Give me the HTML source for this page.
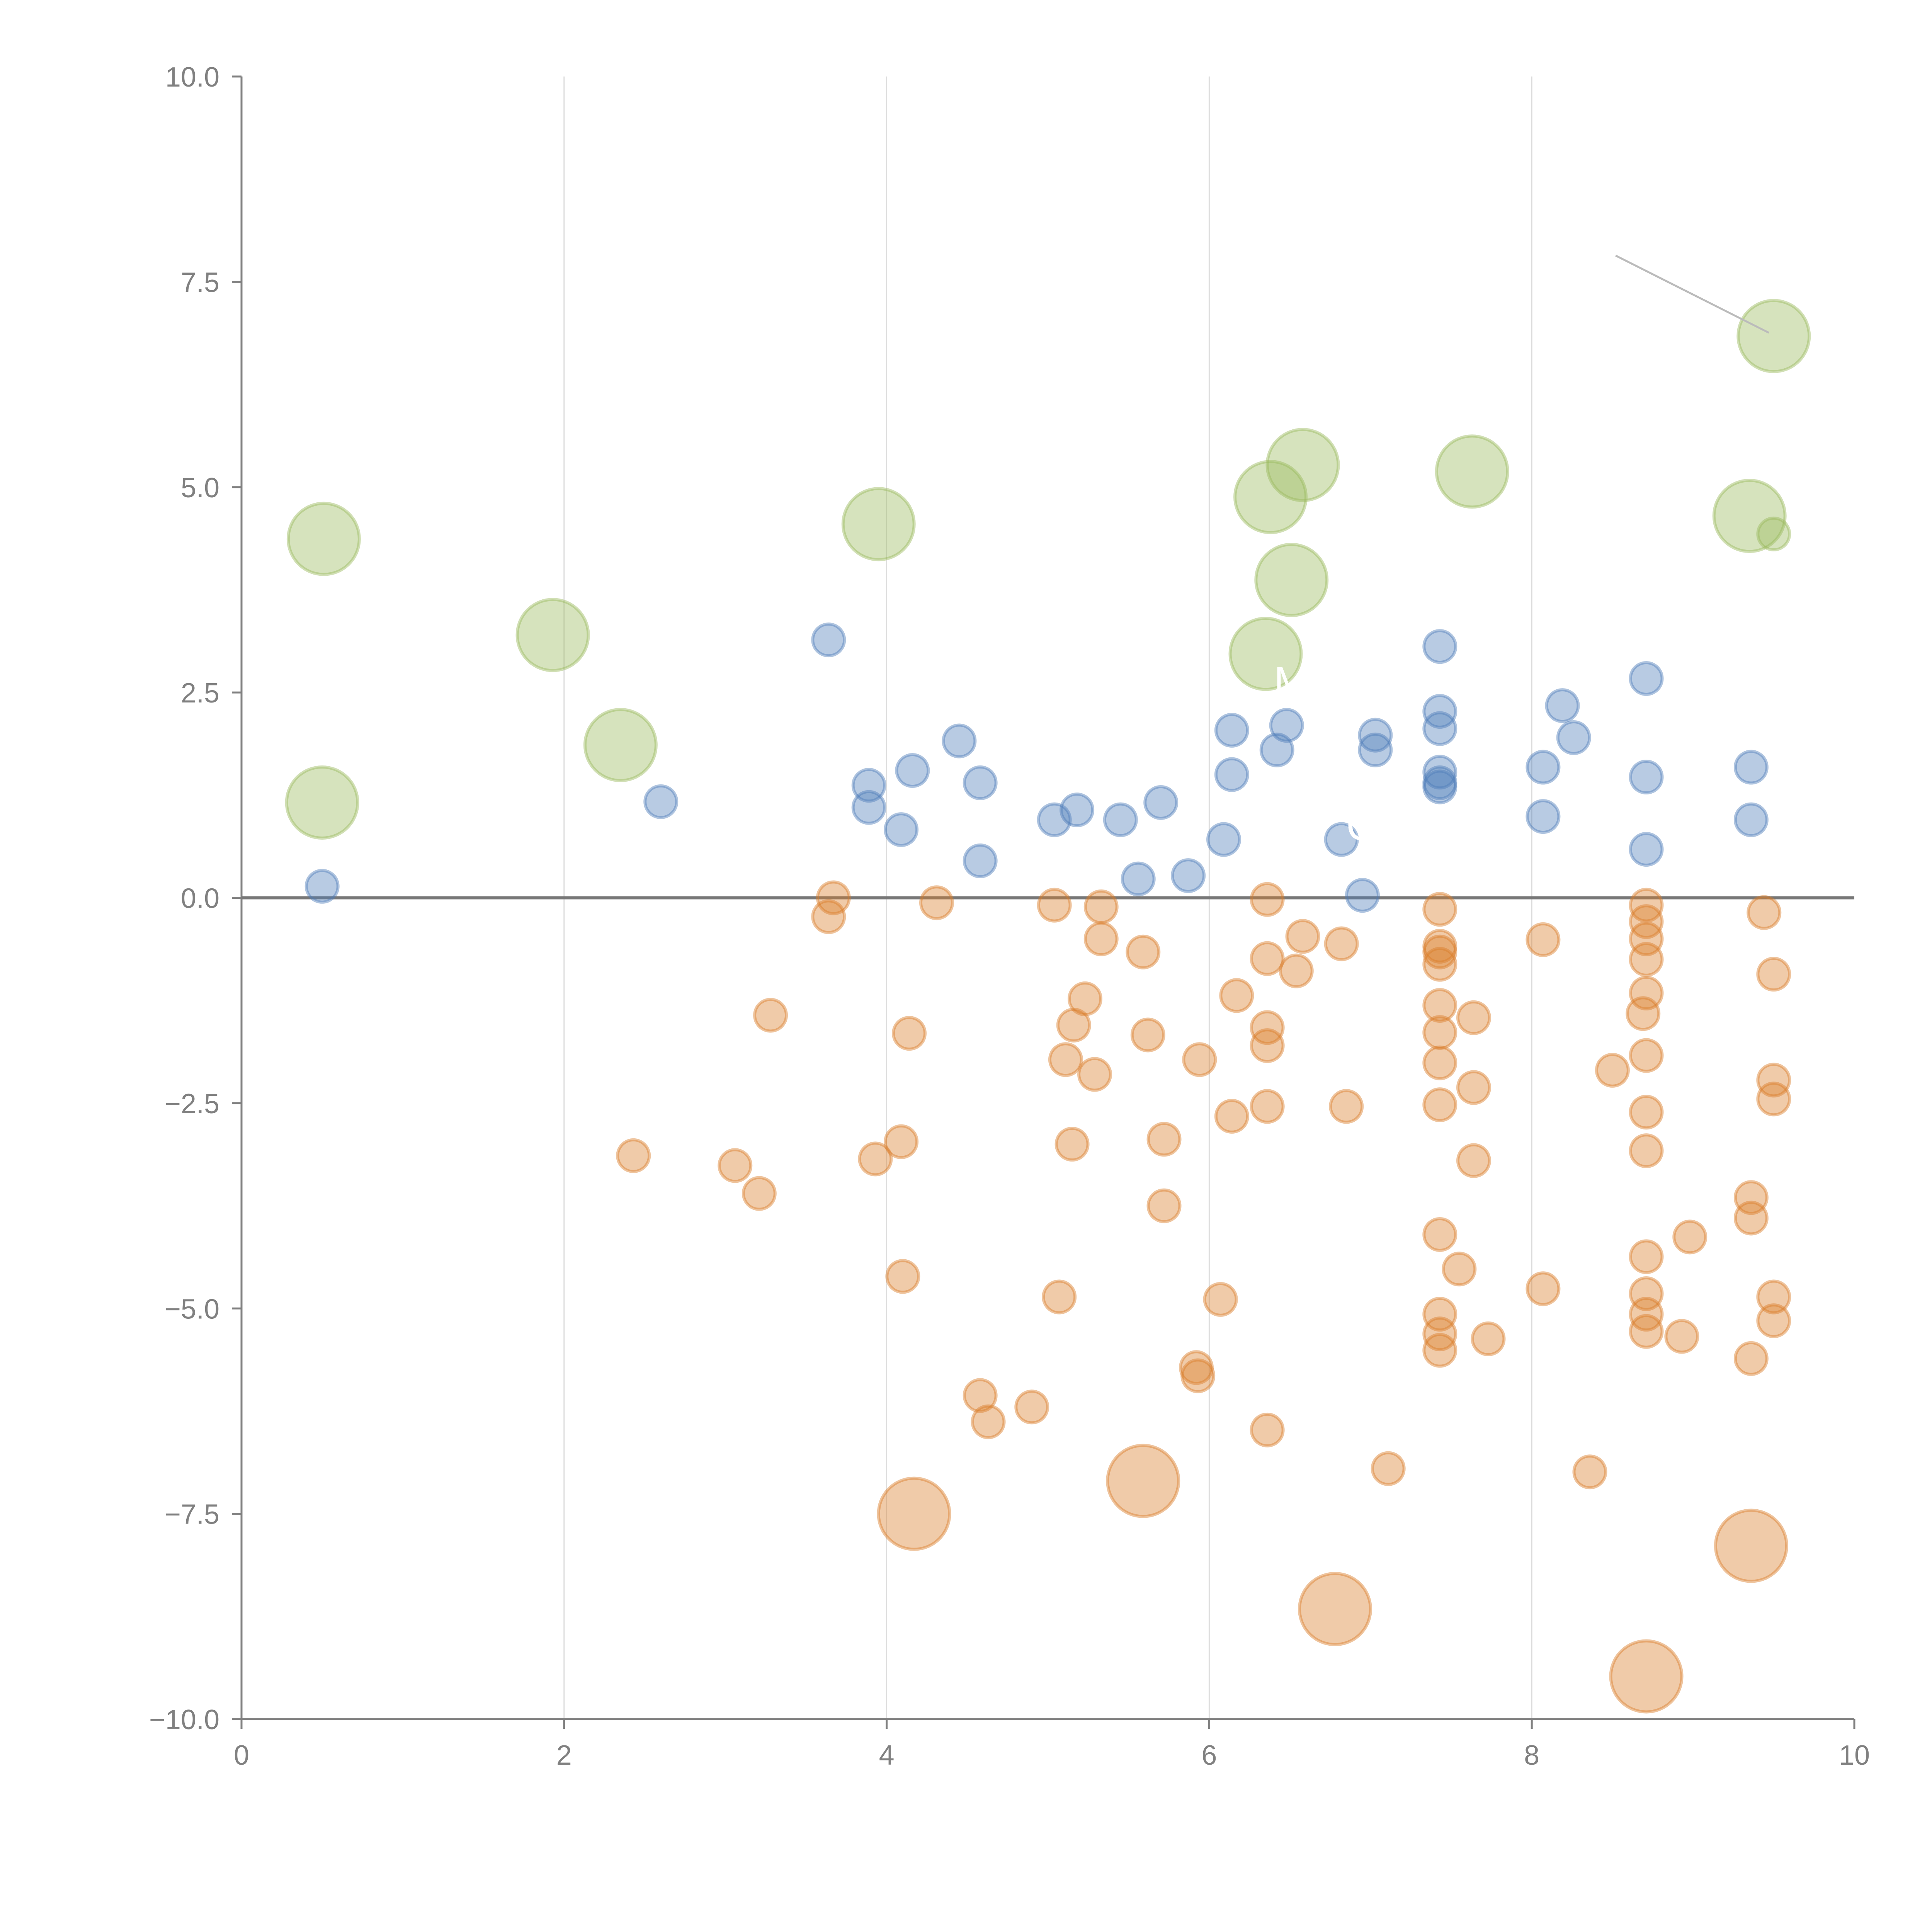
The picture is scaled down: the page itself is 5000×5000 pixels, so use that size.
<!DOCTYPE html>
<html><head><meta charset="utf-8"><style>html,body{margin:0;padding:0;background:#fff}svg{display:block}</style></head>
<body>
<svg id="chart" width="5000" height="5000" viewBox="0 0 5000 5000" xmlns="http://www.w3.org/2000/svg" font-family="Liberation Sans, sans-serif">
<g id="grid"></g>
<g id="axes"></g>
<g id="marks"></g>
<g id="ann"></g>
</svg>
<script>
const xTicks=[0,2,4,6,8,10];
const yTicks=[10,7.5,5,2.5,0,-2.5,-5,-7.5,-10];
const yTickLabels=["10.0","7.5","5.0","2.5","0.0","\u22122.5","\u22125.0","\u22127.5","\u221210.0"];
const blueX=[0.50,2.60,3.64,3.89,3.89,4.09,4.16,4.45,4.58,4.58,5.04,5.18,5.45,5.56,5.70,5.87,6.09,6.14,6.14,6.42,6.48,6.82,6.95,7.03,7.03,7.43,7.43,7.43,7.43,7.43,7.43,8.07,8.07,8.19,8.26,8.71,8.71,8.71,9.36,9.36];
const blueY=[0.14,1.17,3.14,1.37,1.10,0.83,1.55,1.91,1.40,0.45,0.95,1.07,0.95,0.23,1.16,0.27,0.71,2.04,1.50,1.80,2.10,0.71,0.03,1.98,1.80,3.06,2.27,2.06,1.53,1.40,1.35,1.59,0.99,2.34,1.95,2.67,1.47,0.59,1.59,0.95];
const greenBigX=[0.51,1.93,2.35,0.50,3.95,6.38,6.58,6.51,6.35,7.63,9.35,9.50];
const greenBigY=[4.37,3.20,1.86,1.16,4.55,4.88,5.27,3.87,2.97,5.19,4.65,6.84];
const greenSmallX=[9.50];
const greenSmallY=[4.43];
const orangeX=[2.43,3.06,3.21,3.28,3.64,3.67,3.93,4.09,4.10,4.14,4.31,4.58,4.63,4.90,5.04,5.07,5.11,5.16,5.15,5.23,5.29,5.33,5.33,5.59,5.62,5.72,5.72,5.94,5.92,5.93,6.07,6.14,6.17,6.36,6.36,6.36,6.36,6.36,6.36,6.54,6.58,6.82,6.85,7.11,7.43,7.43,7.43,7.43,7.43,7.43,7.43,7.43,7.43,7.43,7.43,7.43,7.55,7.64,7.64,7.64,7.73,8.07,8.07,8.36,8.50,8.69,8.71,8.71,8.71,8.71,8.71,8.71,8.71,8.71,8.71,8.71,8.71,8.71,8.93,8.98,9.36,9.36,9.36,9.44,9.50,9.50,9.50,9.50,9.50];
const orangeY=[-3.14,-3.26,-3.60,-1.43,-0.23,0.00,-3.18,-2.97,-4.61,-1.65,-0.06,-6.06,-6.38,-6.20,-0.09,-4.86,-1.97,-1.55,-3.00,-1.23,-2.15,-0.11,-0.50,-0.66,-1.67,-2.94,-3.75,-1.97,-5.72,-5.82,-4.89,-2.66,-1.19,-0.02,-0.74,-1.58,-1.80,-2.54,-6.48,-0.89,-0.47,-0.56,-2.54,-6.95,-0.14,-0.59,-0.66,-0.81,-1.31,-1.64,-2.01,-2.52,-4.10,-5.07,-5.31,-5.51,-4.52,-1.46,-2.31,-3.20,-5.37,-0.51,-4.76,-6.99,-2.10,-1.41,-0.09,-0.29,-0.50,-0.75,-1.16,-1.92,-2.61,-3.08,-4.37,-4.82,-5.07,-5.28,-5.34,-4.13,-3.65,-3.90,-5.61,-0.18,-0.93,-2.22,-2.45,-4.86,-5.15];
const orangeBigX=[4.17,5.59,6.78,8.71,9.36];
const orangeBigY=[-7.50,-7.10,-8.66,-9.48,-7.89];

const NS="http://www.w3.org/2000/svg";
const X0=625,X1=4799,Y0=4449,Y1=198;
function sx(v){return X0+(v-0)/(10-0)*(X1-X0);}
function sy(v){return Y0-(v+10)/20*(Y0-Y1);}
function mk(tag,attrs,parent){const e=document.createElementNS(NS,tag);for(const k in attrs)e.setAttribute(k,attrs[k]);parent.appendChild(e);return e;}
const grid=document.getElementById('grid'),axes=document.getElementById('axes'),marks=document.getElementById('marks'),ann=document.getElementById('ann');

xTicks.forEach(t=>{
  if(t>0&&t<10){const g=mk('line',{x1:sx(t),x2:sx(t),y1:Y1,y2:Y0,stroke:'#dcdcdc','stroke-width':3},grid);
    
    }
  const tk=mk('line',{x1:sx(t),x2:sx(t),y1:Y0,y2:Y0+25,stroke:'#808080','stroke-width':5},axes);
  
  
  const tx=mk('text',{x:sx(t),y:Y0+118,'font-size':72,fill:'#808080','text-anchor':'middle'},axes);
  tx.textContent=String(t);
  
  
});
yTicks.forEach((t,i)=>{
  const tk=mk('line',{x1:X0-25,x2:X0,y1:sy(t),y2:sy(t),stroke:'#808080','stroke-width':5},axes);
  
  
  const tx=mk('text',{x:X0-57,y:sy(t)+26,'font-size':72,fill:'#808080','text-anchor':'end'},axes);
  tx.textContent=yTickLabels[i];
  
  
});
const ya=mk('line',{x1:X0,x2:X0,y1:Y1,y2:Y0,stroke:'#808080','stroke-width':5},axes);


const xa=mk('line',{x1:X0,x2:X1,y1:Y0,y2:Y0,stroke:'#808080','stroke-width':5},axes);


const zl=mk('line',{x1:X0,x2:X1,y1:sy(0),y2:sy(0),stroke:'#777777','stroke-width':8},axes);



function series(xs,ys,r,color,name){
  xs.forEach((x,i)=>{
    const c=mk('circle',{cx:sx(x),cy:sy(ys[i]),r:r,fill:color,'fill-opacity':0.4,stroke:color,'stroke-opacity':0.45,'stroke-width':8},marks);
    
    
  });
}
series(blueX,blueY,41,'#4d7db9','blue-point');
series(orangeX,orangeY,41,'#d97d28','orange-point');
series(orangeBigX,orangeBigY,92,'#d97d28','orange-large-point');
series(greenBigX,greenBigY,92,'#98b95a','green-large-point');
series(greenSmallX,greenSmallY,41,'#98b95a','green-point');

const gl=mk('line',{x1:sx(8.52),y1:sy(7.82),x2:sx(9.47),y2:sy(6.88),stroke:'#bbbbbb','stroke-width':5},ann);


[["M",6.4,2.45],["OF",6.85,0.7],["BO",6.3,-7.05]].forEach(a=>{
  const t=mk('text',{x:sx(a[1]),y:sy(a[2]),'font-size':110,fill:'#ffffff'},ann);
  t.textContent=a[0];
  
  
});
</script>
</body></html>
